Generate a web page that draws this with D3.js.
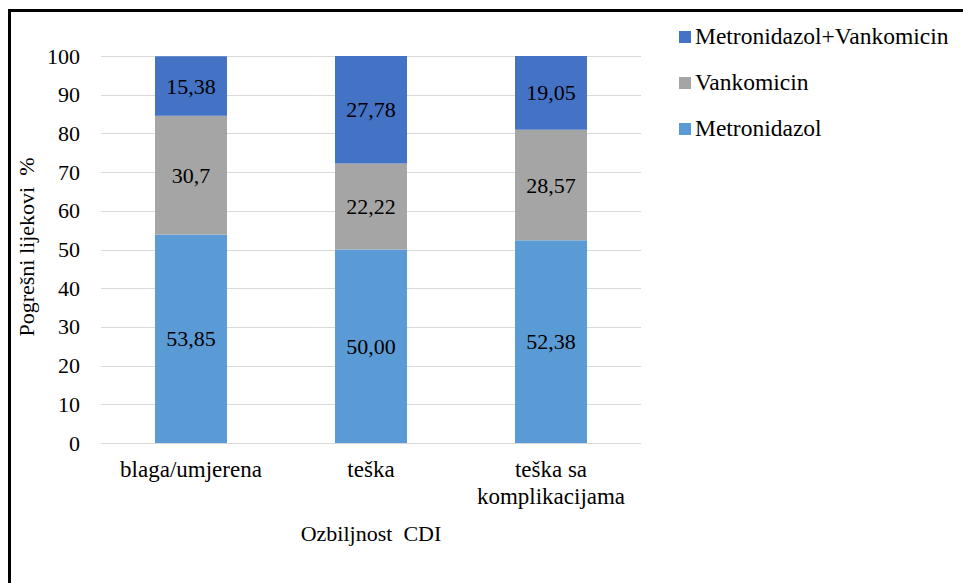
<!DOCTYPE html>
<html>
<head>
<meta charset="utf-8">
<script src="https://cdn.jsdelivr.net/npm/d3@7"></script>
</head>
<body style="margin:0">
<svg id="chart" width="963" height="583"></svg>
<script>
// Categories (CDI severity) and the stacked series, bottom to top
const categories = ["blaga/umjerena", "teška", "teška sa\nkomplikacijama"];
const metronidazol = ["53,85", "50,00", "52,38"];
const vankomicin = ["30,7", "22,22", "28,57"];
const kombinacija = ["15,38", "27,78", "19,05"];
const seriesNames = ["Metronidazol", "Vankomicin", "Metronidazol+Vankomicin"];
const seriesColors = ["#5B9BD5", "#A5A5A5", "#4472C4"];
const yTicks = [0, 10, 20, 30, 40, 50, 60, 70, 80, 90, 100];

const FONT = "'Liberation Serif'";
const toNum = s => +s.replace(",", ".");
const seriesLabels = [metronidazol, vankomicin, kombinacija];

const rows = categories.map((c, i) => {
  const r = { cat: c };
  seriesNames.forEach((n, k) => { r[n] = toNum(seriesLabels[k][i]); });
  return r;
});

const svg = d3.select("#chart")
  .style("font-family", FONT, "important");
const W = 963, H = 583;

// Text helper: serif face at the given pixel size
function txt(sel, size) {
  return sel.append("text")
    .style("font-family", FONT, "important")
    .style("font-size", size + "px", "important");
}

// Outer frame (only its top and left edges fall inside the view)
svg.append("rect")
  .attr("x", 9.5).attr("y", 10.5)
  .attr("width", W + 20).attr("height", H + 20)
  .attr("fill", "none").attr("stroke", "#000").attr("stroke-width", 3);

const plot = { left: 101, right: 641, top: 56, bottom: 443 };

const x = d3.scaleBand()
  .domain(categories)
  .range([plot.left, plot.right])
  .paddingInner(0.6).paddingOuter(0.3);

const y = d3.scaleLinear().domain([0, 100]).range([plot.bottom, plot.top]);

// Horizontal gridlines
const grid = svg.append("g");
yTicks.forEach(t => {
  grid.append("line")
    .attr("x1", plot.left).attr("x2", plot.right)
    .attr("y1", Math.round(y(t)) + 0.5).attr("y2", Math.round(y(t)) + 0.5)
    .attr("stroke", "#D9D9D9").attr("stroke-width", 1);
});

// Tick labels
const ticksG = svg.append("g");
yTicks.forEach(t => {
  txt(ticksG, 22)
    .attr("x", 80).attr("y", y(t) + 7.5)
    .attr("text-anchor", "end")
    .text(t);
});

// Stacked bars
const stack = d3.stack().keys(seriesNames)(rows);
const layers = svg.append("g").selectAll("g")
  .data(stack).join("g")
  .attr("fill", (d, i) => seriesColors[i]);

layers.selectAll("rect")
  .data(d => d)
  .join("rect")
  .attr("x", d => x(d.data.cat))
  .attr("width", x.bandwidth())
  .attr("y", d => y(d[1]))
  .attr("height", d => y(d[0]) - y(d[1]));

// Value labels centred in each segment
stack.forEach((layer, k) => {
  const g = svg.append("g");
  layer.forEach((d, i) => {
    txt(g, 22)
      .attr("x", x(d.data.cat) + x.bandwidth() / 2)
      .attr("y", (y(d[0]) + y(d[1])) / 2 + 7.5)
      .attr("text-anchor", "middle")
      .text(seriesLabels[k][i]);
  });
});

// Category labels under the axis
const catG = svg.append("g");
categories.forEach(c => {
  const cx = x(c) + x.bandwidth() / 2;
  c.split("\n").forEach((line, j) => {
    txt(catG, 23)
      .attr("x", cx)
      .attr("y", 477 + j * 27)
      .attr("text-anchor", "middle")
      .text(line);
  });
});

// Axis titles
txt(svg, 22)
  .attr("x", 371).attr("y", 541)
  .attr("text-anchor", "middle")
  .text("Ozbiljnost\u00A0\u00A0CDI");

txt(svg, 22)
  .attr("transform", "translate(34,247) rotate(-90)")
  .attr("text-anchor", "middle")
  .text("Pogrešni lijekovi\u00A0\u00A0%");

// Legend, top entry first
const legend = svg.append("g");
[2, 1, 0].forEach((k, j) => {
  const yy = 44 + j * 46;
  legend.append("rect")
    .attr("x", 679).attr("y", yy - 13)
    .attr("width", 12).attr("height", 12)
    .attr("fill", seriesColors[k]);
  txt(legend, 23.5)
    .attr("x", 695).attr("y", yy)
    .text(seriesNames[k]);
});
</script>
</body>
</html>
